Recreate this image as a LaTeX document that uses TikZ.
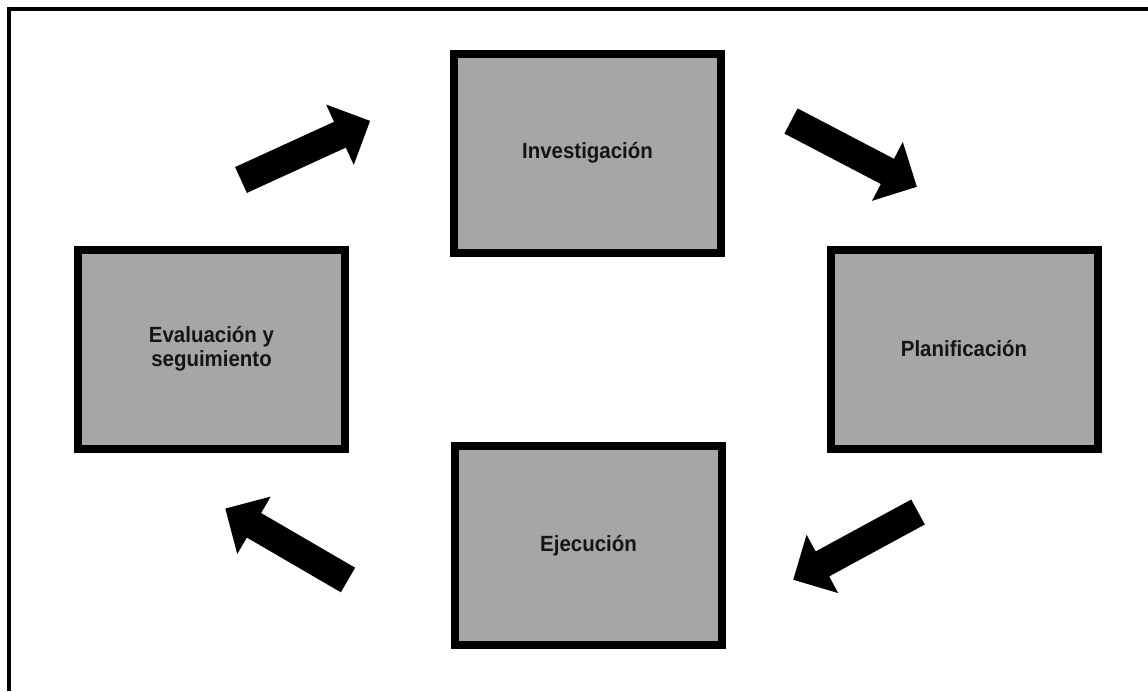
\documentclass[tikz,border=0pt]{standalone}
\usepackage{fontspec}
\setmainfont{Liberation Sans}
\newfontfamily\labelfont[FakeStretch=0.93]{Liberation Sans}
\usetikzlibrary{shapes.arrows}
\definecolor{boxgray}{HTML}{A6A6A6}
\definecolor{inkdark}{HTML}{151515}
\tikzset{
  stage/.style={draw=black, line width=8pt, fill=boxgray, minimum width=267pt,
    minimum height=199pt, inner sep=0pt, outer sep=0pt, align=center,
    text=inkdark, font=\labelfont\bfseries\fontsize{22}{24.5}\selectfont},
  blockarrow/.style={single arrow, fill=black, draw=none, minimum height=142pt,
    inner xsep=0pt, inner ysep=14pt, single arrow head extend=19pt,
    outer sep=0pt, anchor=tail},
  frameline/.style={line width=4pt, draw=black}
}
\begin{document}
\begin{tikzpicture}[x=1pt, y=-1pt]
\useasboundingbox (0,0) rectangle (1148,691);
\coordinate (fbl) at (9,691);
\coordinate (ftl) at (9,9);
\coordinate (ftr) at (1148,9);
\draw[frameline] (fbl) -- (ftl) -- (ftr);

\node[stage] (inv) at (587.5,153) {Investigación};
\node[stage] (plan) at (964,349) {Planificación};
\node[stage] (ejec) at (588.5,545.5) {Ejecución};
\node[stage] (eval) at (211.5,349) {Evaluación y\\seguimiento};

\node[blockarrow, rotate=24.6] (a1) at (241,180) {};
\node[blockarrow, rotate=-27.6] (a2) at (791,121) {};
\node[blockarrow, rotate=208.5] (a3) at (918,512) {};
\node[blockarrow, rotate=149.8] (a4) at (348,580) {};
\end{tikzpicture}
\end{document}
